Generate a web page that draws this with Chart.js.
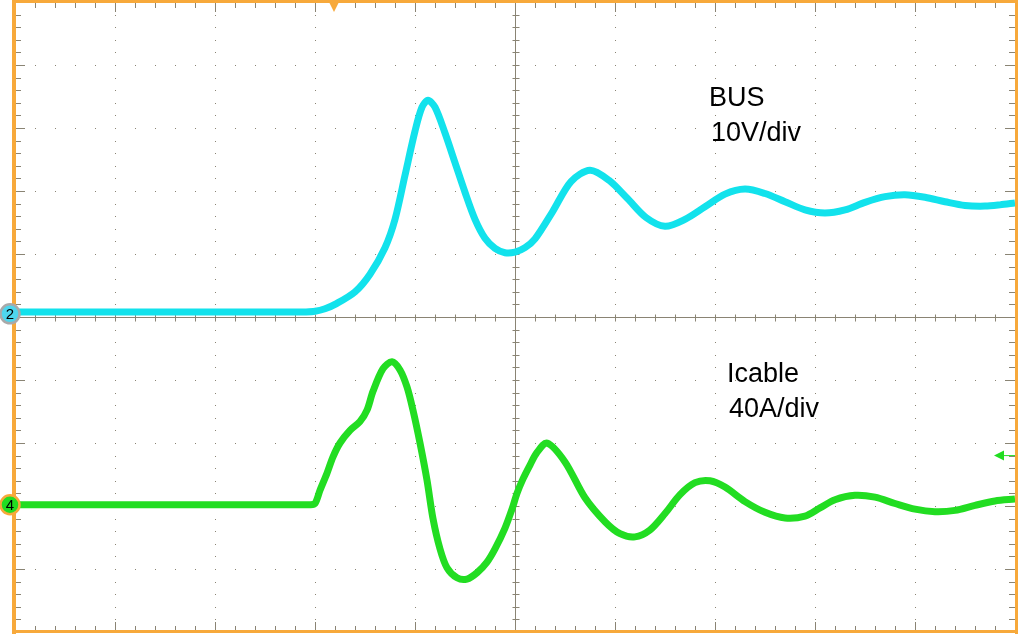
<!DOCTYPE html>
<html>
<head>
<meta charset="utf-8">
<script src="https://cdn.jsdelivr.net/npm/chart.js@4.4.1/dist/chart.umd.min.js"></script>
<style>
  html, body { margin: 0; padding: 0; background: #fff; }
  #grafico { display: block; }
</style>
</head>
<body>
<canvas id="grafico" width="1023" height="635"></canvas>
<script>
const busT = [0, 1, 2, 2.6, 2.8, 2.9, 3.0, 3.1, 3.2, 3.4, 3.55, 3.7, 3.8, 3.9, 4.0, 4.07, 4.13, 4.2,
              4.3, 4.4, 4.5, 4.6, 4.7, 4.8, 4.9, 5.0, 5.1, 5.2, 5.375, 5.56, 5.75, 5.94, 6.125, 6.31, 6.5,
              6.7, 6.9, 7.1, 7.3, 7.5, 7.7, 7.9, 8.1, 8.3, 8.5, 8.7, 8.9, 9.1, 9.3, 9.5, 9.7, 9.85, 10.0];
const busV = [0.08, 0.08, 0.08, 0.08, 0.08, 0.08, 0.09, 0.13, 0.2, 0.4, 0.68, 1.1, 1.55, 2.25, 2.95, 3.33, 3.44, 3.33,
              2.92, 2.45, 1.98, 1.55, 1.25, 1.09, 1.02, 1.03, 1.10, 1.24, 1.67, 2.15, 2.33, 2.17, 1.88, 1.58, 1.44,
              1.55, 1.75, 1.95, 2.03, 1.96, 1.83, 1.70, 1.65, 1.70, 1.82, 1.91, 1.94, 1.90, 1.83, 1.77, 1.76, 1.78, 1.81];

const icableT = [0, 1, 2, 2.6, 2.8, 2.95, 3.0, 3.05, 3.12, 3.18, 3.25, 3.35, 3.45, 3.52, 3.58, 3.68, 3.77, 3.85,
                 3.92, 3.98, 4.05, 4.12, 4.18, 4.25, 4.32, 4.42, 4.52, 4.62, 4.72, 4.8, 4.9, 4.97, 5.02, 5.08,
                 5.15, 5.22, 5.32, 5.5, 5.7, 5.9, 6.05, 6.2, 6.35, 6.5, 6.65, 6.8, 6.95, 7.1, 7.3, 7.5,
                 7.7, 7.9, 8.05, 8.2, 8.4, 8.6, 8.8, 9.0, 9.2, 9.4, 9.6, 9.8, 10.0];
const icableV = [-2.98, -2.98, -2.98, -2.98, -2.98, -2.98, -2.96, -2.75, -2.48, -2.22, -2.00, -1.80, -1.66, -1.48, -1.18, -0.82, -0.71, -0.84,
                 -1.11, -1.48, -2.00, -2.59, -3.20, -3.68, -3.98, -4.14, -4.16, -4.06, -3.89, -3.68, -3.35, -3.05, -2.80, -2.57,
                 -2.35, -2.15, -2.00, -2.30, -2.87, -3.25, -3.44, -3.49, -3.38, -3.12, -2.82, -2.63, -2.60, -2.70, -2.93, -3.10,
                 -3.19, -3.16, -3.03, -2.90, -2.83, -2.86, -2.96, -3.05, -3.09, -3.07, -2.99, -2.92, -2.89];

const textoBus    = ['BUS', '10V/div'];
const textoIcable = ['Icable', '40A/div'];

const COLOR_REJILLA = '#8a8474';
const COLOR_MARCO   = '#f7a93b';
const COLOR_BUS     = '#12e2ec';
const COLOR_ICABLE  = '#22dd22';

function puntos(t, v){
    return t.map((x, i) => ({ x: x, y: v[i] }));
}

// Rejilla, marco y marcadores de la pantalla del osciloscopio
const pluginPantalla = {
    id: 'pantalla',
    beforeDatasetsDraw(chart){
        const { ctx, chartArea: a, scales: { x, y } } = chart;
        ctx.save();
        ctx.fillStyle = COLOR_REJILLA;

        // puntos de la rejilla
        for(let j = -4; j <= 4; j++){
            if(j === 0) continue;
            const py = Math.round(y.getPixelForValue(j));
            for(let k = 1; k < 50; k++){
                ctx.fillRect(Math.round(x.getPixelForValue(k * 0.2)), py, 1, 1);
            }
        }
        for(let i = 1; i <= 9; i++){
            if(i === 5) continue;
            const px = Math.round(x.getPixelForValue(i));
            for(let k = 1; k < 50; k++){
                ctx.fillRect(px, Math.round(y.getPixelForValue(-5 + k * 0.2)), 1, 1);
            }
        }

        // ejes centrales y marcas
        const cx = Math.round(x.getPixelForValue(5)) + 0.5;
        const cy = Math.round(y.getPixelForValue(0)) + 0.5;
        ctx.strokeStyle = COLOR_REJILLA;
        ctx.lineWidth = 1;
        ctx.beginPath();
        ctx.moveTo(cx, a.top);  ctx.lineTo(cx, a.bottom);
        ctx.moveTo(a.left, cy); ctx.lineTo(a.right, cy);
        for(let k = 1; k < 50; k++){
            const px = Math.round(x.getPixelForValue(k * 0.2)) + 0.5;
            const py = Math.round(y.getPixelForValue(-5 + k * 0.2)) + 0.5;
            const largo = (k % 5 === 0) ? 10 : 6;
            ctx.moveTo(px, cy - 3); ctx.lineTo(px, cy + 4);
            ctx.moveTo(cx - 3, py); ctx.lineTo(cx + 4, py);
            ctx.moveTo(px, a.top);    ctx.lineTo(px, a.top + largo);
            ctx.moveTo(px, a.bottom); ctx.lineTo(px, a.bottom - largo);
            ctx.moveTo(a.left, py);   ctx.lineTo(a.left + largo, py);
            ctx.moveTo(a.right, py);  ctx.lineTo(a.right - largo, py);
        }
        ctx.stroke();
        ctx.restore();
    },
    afterDatasetsDraw(chart){
        const { ctx, chartArea: a, scales: { x, y } } = chart;
        ctx.save();

        // marco naranja
        ctx.fillStyle = COLOR_MARCO;
        ctx.fillRect(a.left - 3, 0, 4, a.bottom + 2);
        ctx.fillRect(a.left - 3, 0, a.right - a.left + 6, 3);
        ctx.fillRect(a.right, 0, 3, a.bottom + 2);
        ctx.fillRect(a.left - 3, a.bottom - 2, a.right - a.left + 6, 3);

        // disparo
        const tx = x.getPixelForValue(3.19);
        ctx.beginPath();
        ctx.moveTo(tx - 6, 0); ctx.lineTo(tx + 6, 0); ctx.lineTo(tx, a.top + 10);
        ctx.closePath();
        ctx.fill();

        // flecha de nivel del canal 4
        const ay = y.getPixelForValue(-2.2);
        ctx.fillStyle = COLOR_ICABLE;
        ctx.strokeStyle = COLOR_ICABLE;
        ctx.beginPath();
        ctx.moveTo(a.right - 21, ay); ctx.lineTo(a.right - 11, ay - 5); ctx.lineTo(a.right - 11, ay + 5);
        ctx.closePath();
        ctx.fill();
        ctx.lineWidth = 1;
        ctx.beginPath();
        ctx.moveTo(a.right - 12, ay); ctx.lineTo(a.right, ay);
        ctx.stroke();

        // marcadores de canal
        const canales = [
            { n: '2', v: busV[0] - 0.03, relleno: '#4ed6ee', aro: '#a9a9a9' },
            { n: '4', v: icableV[0],     relleno: '#22dd22', aro: COLOR_MARCO }
        ];
        canales.forEach(c => {
            const py = y.getPixelForValue(c.v);
            ctx.beginPath();
            ctx.arc(a.left - 5, py, 9.5, 0, Math.PI * 2);
            ctx.fillStyle = c.relleno;
            ctx.fill();
            ctx.lineWidth = 2.5;
            ctx.strokeStyle = c.aro;
            ctx.stroke();
            ctx.fillStyle = '#000';
            ctx.font = '15px "Liberation Sans", Arial, sans-serif';
            ctx.textAlign = 'center';
            ctx.textBaseline = 'middle';
            ctx.fillText(c.n, a.left - 5, py + 1);
        });

        // textos de los canales
        ctx.fillStyle = '#000';
        ctx.font = '27px "Liberation Sans", Arial, sans-serif';
        ctx.textAlign = 'left';
        ctx.textBaseline = 'alphabetic';
        ctx.fillText(textoBus[0], 709, 106);
        ctx.fillText(textoBus[1], 711, 141);
        ctx.fillText(textoIcable[0], 727, 382);
        ctx.fillText(textoIcable[1], 729, 417);
        ctx.restore();
    }
};

const chartScope = new Chart(document.getElementById('grafico'), {
    type: 'scatter',
    data: {
        datasets: [{
            label: 'BUS',
            data: puntos(busT, busV),
            showLine: true,
            borderColor: COLOR_BUS,
            borderWidth: 7,
            pointRadius: 0,
            tension: 0.3
        }, {
            label: 'Icable',
            data: puntos(icableT, icableV),
            showLine: true,
            borderColor: COLOR_ICABLE,
            borderWidth: 7,
            pointRadius: 0,
            tension: 0.3
        }]
    },
    options: {
        responsive: false,
        animation: false,
        layout: { padding: { left: 15, top: 2, right: 8, bottom: 3 } },
        plugins: {
            legend:  { display: false },
            tooltip: { enabled: false }
        },
        scales: {
            x: { type: 'linear', min: 0,  max: 10, display: false },
            y: { type: 'linear', min: -5, max: 5,  display: false }
        }
    },
    plugins: [pluginPantalla]
});
</script>
</body>
</html>
